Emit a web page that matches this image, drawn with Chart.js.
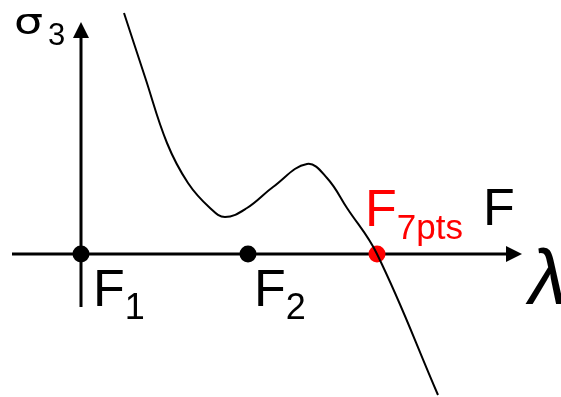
<!DOCTYPE html>
<html>
<head>
<meta charset="utf-8">
<script src="https://cdn.jsdelivr.net/npm/chart.js@4"></script>
<style>
    html, body { margin: 0; padding: 0; background: #ffffff; }
    #wrap { width: 561px; height: 397px; }
</style>
</head>
<body>
<div id="wrap"><canvas id="stressChart" width="561" height="397"></canvas></div>
<script>
// sigma_3 as a function of the load factor lambda
const curveLambda = [0.43, 0.64, 0.86, 1.07, 1.29, 1.44, 1.66, 1.92, 2.26, 2.46, 2.66, 2.96, 3.57];
const curveSigma  = [2.41, 1.77, 1.11, 0.71, 0.46, 0.37, 0.46, 0.67, 0.90, 0.76, 0.46, 0.00, -1.41];

// marked load levels on the lambda axis
const markNames  = ['F', 'F', 'F'];
const markSubs   = ['1', '2', '7pts'];
const markLambda = [0, 1.67, 2.96];
const markSigma  = [0, 0, 0];

const FONT = '"Liberation Sans", Arial, sans-serif';

const curvePoints = curveLambda.map((x, i) => ({ x: x, y: curveSigma[i] }));
const markPoints = markLambda.map((x, i) => ({ x: x, y: markSigma[i] }));
const markColors = ['#000000', '#000000', '#ff0000'];

function arrowHead(ctx, x, y, dir) {
    const len = 16, half = 8;
    ctx.beginPath();
    if (dir === 'right') {
        ctx.moveTo(x, y);
        ctx.lineTo(x - len, y - half);
        ctx.lineTo(x - len, y + half);
    } else {
        ctx.moveTo(x, y);
        ctx.lineTo(x - half, y + len);
        ctx.lineTo(x + half, y + len);
    }
    ctx.closePath();
    ctx.fill();
}

const axesPlugin = {
    id: 'axesArrows',
    beforeDatasetsDraw(chart) {
        const ctx = chart.ctx;
        const xs = chart.scales.x, ys = chart.scales.y;
        const x0 = xs.getPixelForValue(0), y0 = ys.getPixelForValue(0);
        const xEnd = xs.getPixelForValue(4.41), xStart = xs.getPixelForValue(-0.69);
        const yTop = ys.getPixelForValue(2.32), yBottom = ys.getPixelForValue(-0.53);
        ctx.save();
        ctx.strokeStyle = '#000';
        ctx.fillStyle = '#000';
        ctx.lineWidth = 3;
        ctx.beginPath();
        ctx.moveTo(xStart, y0);
        ctx.lineTo(xEnd - 12, y0);
        ctx.moveTo(x0, yBottom);
        ctx.lineTo(x0, yTop + 12);
        ctx.stroke();
        arrowHead(ctx, xEnd, y0, 'right');
        arrowHead(ctx, x0, yTop, 'up');
        ctx.restore();
    },
    afterDatasetsDraw(chart) {
        const ctx = chart.ctx;
        const xs = chart.scales.x, ys = chart.scales.y;
        const x0 = xs.getPixelForValue(0), y0 = ys.getPixelForValue(0);
        ctx.save();
        ctx.textBaseline = 'alphabetic';
        ctx.textAlign = 'left';

        // labels for the marked load levels
        const offsets = [[12, 52, 36, 65], [6, 52, 36, 65], [-12, -28, 35, -15]];
        markPoints.forEach((p, i) => {
            const px = xs.getPixelForValue(p.x), py = ys.getPixelForValue(p.y);
            const [dx, dy, subSize, subDy] = offsets[i];
            ctx.fillStyle = markColors[i];
            ctx.font = '52px ' + FONT;
            ctx.fillText(markNames[i], px + dx, py + dy);
            const w = ctx.measureText(markNames[i]).width;
            ctx.font = subSize + 'px ' + FONT;
            ctx.fillText(markSubs[i], px + dx + w, py + subDy);
        });

        // axis titles
        ctx.fillStyle = '#000';
        ctx.save();
        ctx.translate(x0 - 67, 34);
        ctx.scale(1.35, 1.05);
        ctx.font = '34px "DejaVu Sans", sans-serif';
        ctx.fillText('σ', 0, 0);
        ctx.restore();
        ctx.font = '31px ' + FONT;
        ctx.fillText('3', x0 - 33, 45);
        ctx.font = '52px ' + FONT;
        ctx.fillText('F', xs.getPixelForValue(4.02), y0 - 29);
        ctx.save();
        ctx.translate(xs.getPixelForValue(4.44), y0 + 50);
        ctx.transform(1, 0, -0.15, 1, 0, 0);
        ctx.font = '78px ' + FONT;
        ctx.fillText('λ', 0, 0);
        ctx.restore();
        ctx.restore();
    }
};

new Chart(document.getElementById('stressChart').getContext('2d'), {
    type: 'scatter',
    data: {
        datasets: [
            {
                type: 'line',
                data: curvePoints,
                borderColor: '#000000',
                borderWidth: 2,
                pointRadius: 0,
                fill: false,
                tension: 0.4
            },
            {
                data: markPoints,
                backgroundColor: markColors,
                borderWidth: 0,
                pointRadius: 8.5
            }
        ]
    },
    options: {
        responsive: false,
        animation: false,
        layout: { padding: 0, autoPadding: false },
        scales: {
            x: { type: 'linear', display: false, min: -0.81, max: 4.80 },
            y: { type: 'linear', display: false, min: -1.43, max: 2.54 }
        },
        plugins: {
            legend: { display: false },
            tooltip: { enabled: false }
        }
    },
    plugins: [axesPlugin]
});
</script>
</body>
</html>
